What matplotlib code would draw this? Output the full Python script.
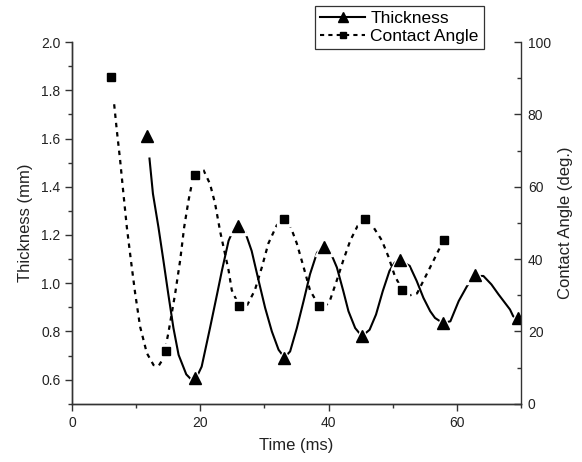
import matplotlib
matplotlib.use('Agg')
import matplotlib.pyplot as plt
import matplotlib.ticker as mticker
from matplotlib.lines import Line2D

plt.rcParams['font.family'] = ['Liberation Sans', 'DejaVu Sans']

# marker points
thick_t = [11.6, 19.2, 25.9, 33.1, 39.3, 45.2, 51.1, 57.8, 62.8, 69.6]
thick_mm = [1.61, 0.605, 1.237, 0.69, 1.152, 0.78, 1.096, 0.835, 1.032, 0.855]

angle_t = [6.1, 14.6, 19.1, 26.1, 33.0, 38.5, 45.7, 51.5, 58.0]
angle_deg = [90.2, 14.7, 63.3, 27.1, 51.2, 27.1, 51.2, 31.5, 45.2]

# traced line points
thick_curve_t = [12.06, 12.6, 13.46, 14.24, 15.0, 15.8, 16.6, 17.8, 18.6, 19.2,
                 20.2, 21.5, 22.6, 23.35, 24.4, 25.2, 25.85, 27.0, 28.0, 29.1,
                 30.1, 31.15, 32.2, 33.1, 34.0, 35.05, 36.1, 37.1, 38.2, 39.35,
                 40.3, 41.3, 42.3, 43.1, 44.15, 45.2, 46.4, 47.4, 48.45, 49.5,
                 50.3, 51.05, 52.65, 53.75, 54.8, 55.85, 56.6, 57.8, 59.0, 60.3,
                 61.6, 62.75, 64.15, 65.4, 66.5, 67.3, 68.3, 68.8, 69.6]
thick_curve_mm = [1.517, 1.371, 1.232, 1.093, 0.954, 0.814, 0.703, 0.622, 0.600, 0.598,
                  0.654, 0.814, 0.954, 1.051, 1.176, 1.225, 1.239, 1.211, 1.134, 1.009,
                  0.898, 0.800, 0.724, 0.692, 0.717, 0.814, 0.926, 1.037, 1.127, 1.151,
                  1.128, 1.065, 0.967, 0.884, 0.814, 0.780, 0.807, 0.870, 0.967, 1.051,
                  1.085, 1.096, 1.072, 1.009, 0.939, 0.884, 0.856, 0.835, 0.842, 0.926,
                  0.988, 1.030, 1.030, 0.995, 0.954, 0.926, 0.891, 0.863, 0.850]

angle_curve_t = [6.55, 6.97, 7.49, 8.0, 8.53, 9.16, 9.83, 10.6, 11.65, 12.7,
                 13.5, 14.2, 15.0, 16.07, 16.85, 17.47, 18.15, 18.67, 19.5, 20.4,
                 21.5, 22.3, 23.1, 24.4, 24.9, 26.05, 27.25, 28.5, 29.6, 30.6,
                 31.9, 33.0, 34.0, 35.05, 36.1, 37.1, 38.5, 39.5, 40.2, 41.3,
                 42.3, 43.4, 44.7, 45.7, 47.0, 48.3, 49.35, 50.3, 51.5, 52.7,
                 53.8, 55.1, 56.4, 57.4, 58.0]
angle_curve_deg = [82.8, 75.5, 67.2, 58.0, 48.8, 39.7, 30.5, 21.3, 14.0, 10.7,
                   10.5, 12.5, 19.5, 30.5, 39.7, 48.8, 56.2, 60.8, 64.0, 64.9,
                   60.8, 55.3, 47.5, 36.9, 31.4, 27.1, 27.1, 31.4, 37.8, 44.3,
                   49.3, 51.2, 49.3, 44.3, 37.8, 31.4, 27.1, 27.0, 28.5, 34.2,
                   39.7, 45.2, 49.8, 51.2, 48.8, 45.2, 40.6, 35.5, 31.4, 30.0,
                   30.5, 35.1, 39.7, 43.3, 45.2]

txt = '#222222'

fig = plt.figure(figsize=(5.82, 4.62), dpi=100)
ax = fig.add_axes([0.124, 0.126, 0.771, 0.783])
ax2 = ax.twinx()

# thickness (left axis)
ax.plot(thick_curve_t, thick_curve_mm, color='black', lw=1.5, zorder=2)
ax.plot(thick_t, thick_mm, ls='none', marker='^', ms=13, color='white', zorder=3)
ax.plot(thick_t, thick_mm, ls='none', marker='^', ms=8, color='black', zorder=4)

# contact angle (right axis)
ax2.plot(angle_curve_t, angle_curve_deg, color='black', lw=1.6,
         ls=(0, (2.0, 2.2)), zorder=2)
ax2.plot(angle_t, angle_deg, ls='none', marker='s', ms=10, color='white', zorder=3)
ax2.plot(angle_t, angle_deg, ls='none', marker='s', ms=5.5, color='black', zorder=4)

ax.set_xlim(0, 70)
ax.set_ylim(0.5, 2.0)
ax2.set_ylim(0, 100)

ax.xaxis.set_major_locator(mticker.MultipleLocator(20))
ax.xaxis.set_minor_locator(mticker.MultipleLocator(10))
ax.yaxis.set_major_locator(mticker.FixedLocator([0.6, 0.8, 1.0, 1.2, 1.4, 1.6, 1.8, 2.0]))
ax.yaxis.set_minor_locator(mticker.MultipleLocator(0.1))
ax.yaxis.set_major_formatter(mticker.FormatStrFormatter('%.1f'))
ax2.yaxis.set_major_locator(mticker.MultipleLocator(20))
ax2.yaxis.set_minor_locator(mticker.MultipleLocator(10))

ax.tick_params(axis='both', which='major', direction='out', length=5, width=1,
               labelsize=10, labelcolor=txt, color='#333333')
ax.tick_params(axis='both', which='minor', direction='out', length=3, width=1,
               color='#333333')
ax2.tick_params(axis='y', which='major', direction='in', length=5, width=1,
                labelsize=10, labelcolor=txt, color='#333333', pad=5)
ax2.tick_params(axis='y', which='minor', direction='in', length=3, width=1,
                color='#333333')

for a in (ax, ax2):
    a.spines['top'].set_visible(False)
    for s in ('left', 'bottom', 'right'):
        a.spines[s].set_color('#333333')
        a.spines[s].set_linewidth(1)
ax.spines['right'].set_visible(False)

ax.set_xlabel('Time (ms)', fontsize=12, color=txt, labelpad=6)
ax.set_ylabel('Thickness (mm)', fontsize=12, color=txt, labelpad=6)
ax2.set_ylabel('Contact Angle (deg.)', fontsize=12, color=txt, labelpad=5)

handles = [
    Line2D([], [], color='black', lw=1.5, marker='^', ms=7.5),
    Line2D([], [], color='black', lw=1.5, ls=(0, (2, 2)), marker='s', ms=5),
]
leg = fig.legend(handles, ['Thickness', 'Contact Angle'], loc='upper left',
                 bbox_to_anchor=(0.541, 0.988), fontsize=12.5, frameon=True,
                 fancybox=False, edgecolor='black', handlelength=2.6,
                 handletextpad=0.3, borderpad=0.3, labelspacing=0.15,
                 borderaxespad=0)
leg.get_frame().set_linewidth(0.9)

plt.savefig('out.png', dpi=100)
plt.close()
